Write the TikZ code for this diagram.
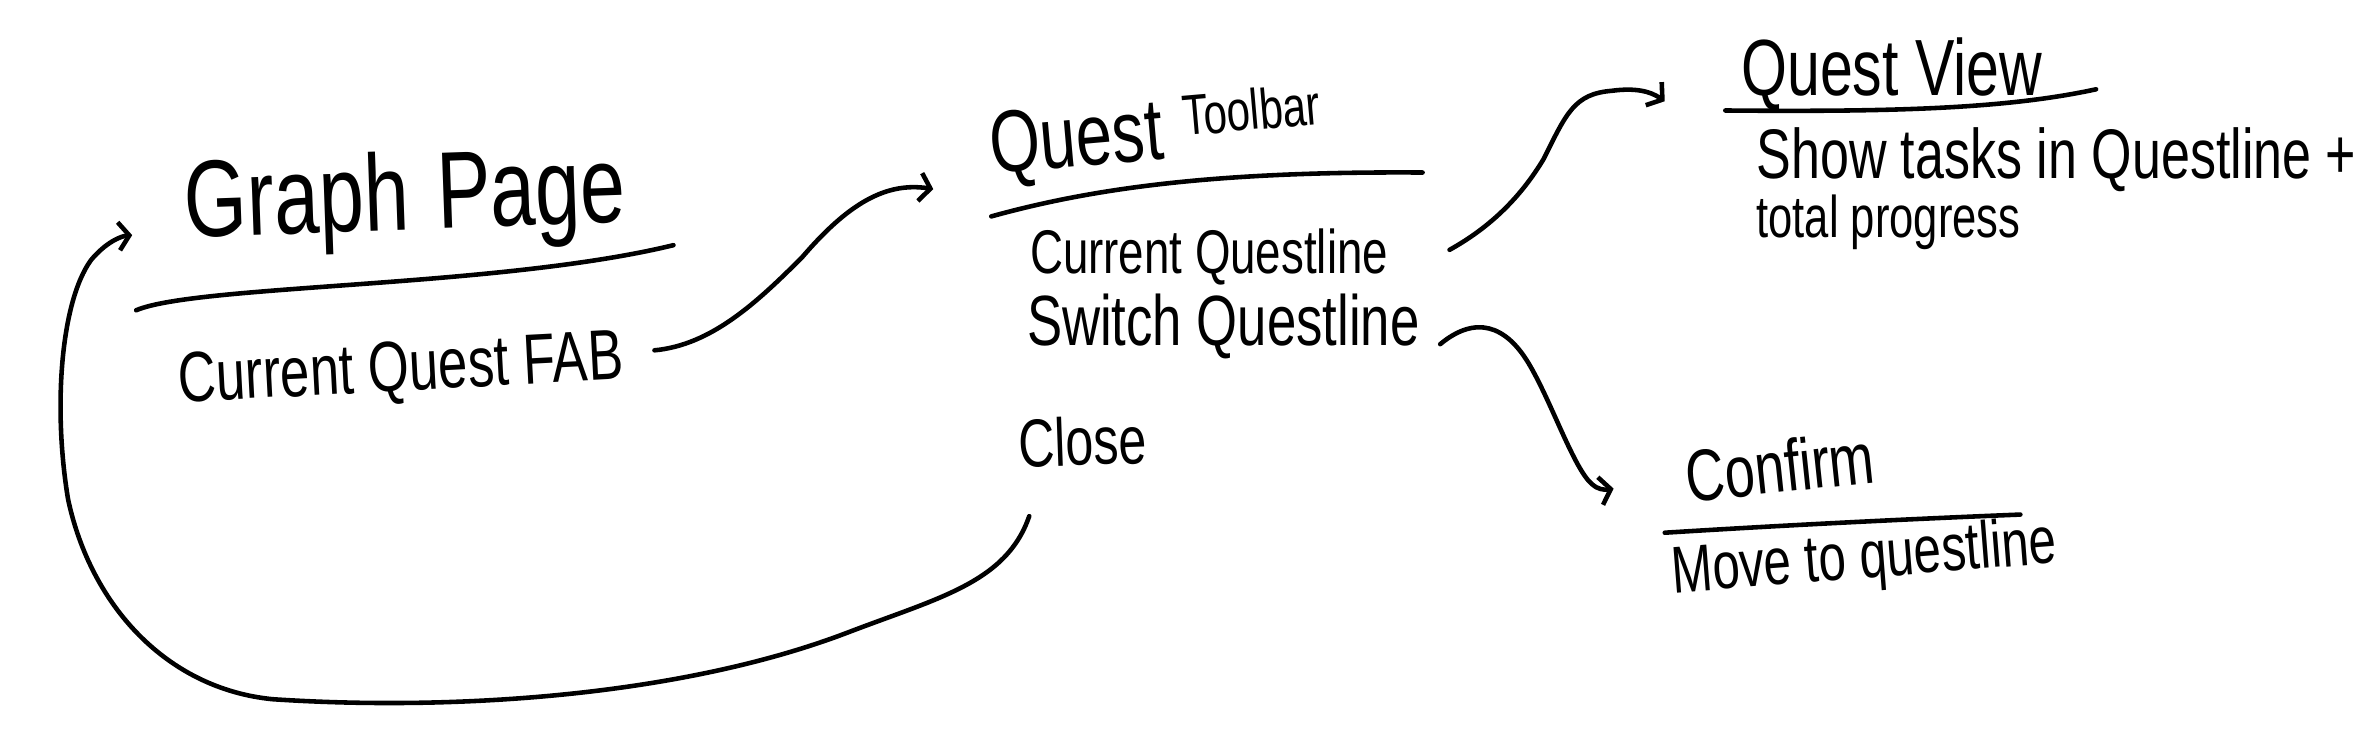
\documentclass[tikz,border=0pt]{standalone}
\usepackage{fontspec}
\setmainfont{Liberation Sans}
\usetikzlibrary{arrows.meta}
\newcommand{\hw}[2]{\scalebox{1}[1.35]{\fontsize{#1}{#1}\selectfont #2}}
\begin{document}
\begin{tikzpicture}[x=0.015134cm,y=-0.015134cm,
  lbl/.style={anchor=base west, inner sep=0.5pt},
  ink/.style={line width=1.3pt, line cap=round, line join=round},
  conn/.style={ink, -{Straight Barb[length=3pt,width=8pt]}}]
\useasboundingbox (0,0) rectangle (1568,495);
\fill[white] (0,0) rectangle (1568,495);

% Graph Page
\node[lbl, rotate=2] (gp) at (121,157) {\hw{23}{Graph\hspace{8pt}Page}};
\draw[ink] (90,205) .. controls (130,188) and (330,190) .. (445,162);
\node[lbl, rotate=3] (fab) at (117,266) {\hw{15}{Current Quest FAB}};

% Quest Toolbar
\node[lbl, rotate=5] (qt) at (654,115) {\hw{18.5}{Quest}\hspace{6pt}\raisebox{6pt}{\hw{12}{Toolbar}}};
\draw[ink] (655,143) .. controls (720,125) and (800,113) .. (940,114);
\node[lbl] (cq) at (679,181) {\hw{13}{Current Questline}};
\node[lbl] (sw) at (677,228) {\hw{15}{Switch Questline}};
\node[lbl, rotate=2] (close) at (672,309) {\hw{14.3}{Close}};

% Quest View
\node[lbl] (qv) at (1149,63) {\hw{16.8}{Quest View}};
\draw[ink] (1140,73) .. controls (1250,74) and (1325,72) .. (1385,59);
\node[lbl] (show) at (1159,118) {\hw{14.8}{Show tasks in Questline +}};
\node[lbl] (total) at (1159,157) {\hw{12.4}{total progress}};

% Confirm
\node[lbl, rotate=6] (confirm) at (1114,332) {\hw{15.4}{Confirm}};
\draw[ink] (1100,352) .. controls (1180,347) and (1260,343) .. (1335,340);
\node[lbl, rotate=4.5] (move) at (1104,392) {\hw{14}{Move to questline}};

% connectors
\draw[conn] ([shift={(19,-7)}]fab.east) .. controls (470,228) and (500,200) .. (530,170)
  .. controls (560,135) and (585,120) .. ([shift={(-36,25)}]qt.west);
\draw[conn] ([shift={(39,-5)}]cq.east) .. controls (985,150) and (1005,130) .. (1020,105)
  .. controls (1035,75) and (1040,62) .. (1065,60)
  .. controls (1080,58) and (1090,60) .. ([shift={(-49,18)}]qv.west);
\draw[conn] ([shift={(12,12)}]sw.east) .. controls (975,208) and (995,215) .. (1010,240)
  .. controls (1025,265) and (1040,310) .. (1052,320)
  .. controls (1055,323) and (1060,324) .. ([shift={(-46,8)}]confirm.west);
\draw[conn] ([shift={(8,30)}]close.south west) .. controls (665,385) and (620,395) .. (560,418)
  .. controls (450,460) and (300,470) .. (180,462)
  .. controls (110,455) and (60,400) .. (45,330)
  .. controls (35,270) and (40,200) .. (60,172)
  .. controls (70,160) and (80,156) .. ([shift={(-33,17)}]gp.west);
\end{tikzpicture}
\end{document}
